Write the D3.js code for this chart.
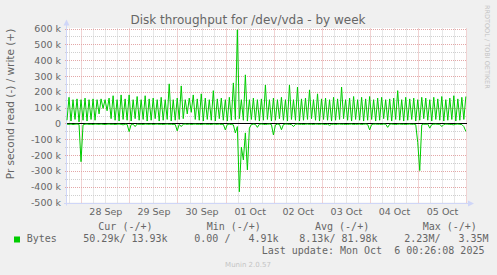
<!DOCTYPE html>
<html>
<head>
<meta charset="utf-8">
<script src="https://cdnjs.cloudflare.com/ajax/libs/d3/7.8.5/d3.min.js"></script>
<style>
  body { margin: 0; background: #f0f0f0; }
  svg { display: block; }
  text { font-family: "DejaVu Sans", sans-serif; fill: #666; }
  .mono { font-family: "DejaVu Sans Mono", monospace; font-size: 10px; white-space: pre; }
</style>
</head>
<body>
<script>

// time span of the week graph (one sample per hour)
var startTime = new Date(2025, 8, 27, 16, 52);
var endTime = new Date(2025, 9, 6, 0, 27);

// write (+) in k bytes/s: low point and peak of each 2 hour cycle
var writeTroughs = [20,15,25,10,20,15,25,20,60,95, 80,30,20,15,25,20,15,30,20,25,
                    15,20,30,15,20,25,15,20,25,30, 60,70,25,20,15,25,20,15,30,20,
                    15,20,25,30,20,15,25,20,15,20, 25,15,20,30,20,15,25,20,15,20,
                    25,30,20,15,25,20,15,20,25,30, 20,15,25,20,15,20,25,15,20,30,
                    20,15,25,20,15,20,25,15,20,30, 20,15,25,20,15,20,25,15,20,25];
var writePeaks = [165,150,155,150,160,150,155,150,155,150, 160,175,150,180,155,180,150,170,150,175,
                  155,160,150,165,150,250,150,160,237,150, 160,180,155,187,160,150,207,155,160,150,
                  165,256,592,150,307,150,160,150,155,243, 150,160,150,165,150,243,150,230,155,160,
                  212,150,187,155,160,150,165,155,230,150, 160,170,150,165,155,170,150,160,165,150,
                  155,160,207,150,165,155,160,150,165,160, 150,165,155,170,150,160,175,155,165,170];

// read (-) in k bytes/s, hourly
var readValues = [5,6,4,7,5,4,6,242,9,5, 4,6,5,7,4,5,6,4,6,7,
                  5,4,6,5,7,5,4,6,9,5, 6,52,7,5,20,4,6,5,7,4,
                  5,6,4,7,5,4,6,5,7,5, 4,6,5,7,6,47,6,20,5,4,
                  6,4,7,5,4,6,5,7,5,4, 6,5,7,4,5,6,4,7,5,41,
                  6,5,7,9,60,20,432,150,231,60, 294,30,7,5,6,25,5,4,6,7,
                  5,4,7,73,9,5,6,40,7,4, 5,6,7,20,5,4,6,5,7,5,
                  4,6,5,7,4,5,6,4,6,7, 5,12,6,5,7,5,4,6,5,7,
                  6,5,4,7,5,6,4,7,5,4, 6,41,7,5,4,6,5,7,4,5,
                  25,5,4,6,7,5,4,6,5,7, 5,4,6,5,7,120,298,9,5,6,
                  4,30,7,5,4,6,5,20,7,4, 5,6,7,9,5,4,6,7,20,50];

var yTicks = [-500000,-400000,-300000,-200000,-100000,0,100000,200000,300000,400000,500000,600000];
var yTickLabels = ["-500 k","-400 k","-300 k","-200 k","-100 k","0","100 k","200 k","300 k","400 k","500 k","600 k"];

var legendHeaders = ["Cur (-/+)", "Min (-/+)", "Avg (-/+)", "Max (-/+)"];
var legendValues = ["50.29k/ 13.93k", "0.00 /   4.91k", "8.13k/ 81.98k", "2.23M/   3.35M"];

window.onload = function() { drawChart(); };

function drawChart() {

  var W = 497, H = 275;
  var left = 67, right = 467, top = 28.5, bottom = 202.5;

  var svg = d3.select("body").append("svg")
    .attr("width", W)
    .attr("height", H);

  svg.append("rect").attr("width", W).attr("height", H).attr("fill", "#f0f0f0");

  // build hourly series
  var writeSeries = [], readSeries = [];
  for (var i = 0; i < writePeaks.length; i++) {
    writeSeries.push({t: d3.timeHour.offset(startTime, 2 * i), v: writeTroughs[i] * 1000});
    writeSeries.push({t: d3.timeHour.offset(startTime, 2 * i + 1), v: writePeaks[i] * 1000});
  }
  readValues.forEach(function(r, h) {
    readSeries.push({t: d3.timeHour.offset(startTime, h), v: -r * 1000});
  });

  var x = d3.scaleTime().domain([startTime, endTime]).range([left, right]);
  var y = d3.scaleLinear().domain([-500000, 600000]).range([bottom, top]);

  function px(v) { return Math.round(v) + 0.5; }

  // canvas
  svg.append("rect")
    .attr("x", left).attr("y", top - 0.5)
    .attr("width", right - left).attr("height", bottom - top + 0.5)
    .attr("fill", "#ffffff");

  // minor grid: every 50k and every 6 hours
  var minorY = d3.range(-450000, 600000, 100000);
  svg.append("g").selectAll("line").data(minorY).enter().append("line")
    .attr("x1", left - 2).attr("x2", right)
    .attr("y1", function(d) { return px(y(d)); })
    .attr("y2", function(d) { return px(y(d)); })
    .attr("stroke", "#cfcfcf").attr("stroke-dasharray", "1,1");

  var sixHours = d3.timeHour.every(6).range(startTime, endTime).filter(function(d) { return d.getHours() != 0; });
  svg.append("g").selectAll("line").data(sixHours).enter().append("line")
    .attr("x1", function(d) { return px(x(d)); })
    .attr("x2", function(d) { return px(x(d)); })
    .attr("y1", top).attr("y2", bottom + 2)
    .attr("stroke", "#cfcfcf").attr("stroke-dasharray", "1,1");

  // major grid: every 100k and every day
  svg.append("g").selectAll("line").data(yTicks).enter().append("line")
    .attr("x1", left - 2).attr("x2", right)
    .attr("y1", function(d) { return px(y(d)); })
    .attr("y2", function(d) { return px(y(d)); })
    .attr("stroke", "#e3a7a7").attr("stroke-dasharray", "1,1");

  var days = d3.timeDay.range(startTime, endTime);
  svg.append("g").selectAll("line").data(days).enter().append("line")
    .attr("x1", function(d) { return px(x(d)); })
    .attr("x2", function(d) { return px(x(d)); })
    .attr("y1", top).attr("y2", bottom + 2)
    .attr("stroke", "#e3a7a7").attr("stroke-dasharray", "1,1");

  // y axis labels
  var yAxis = d3.axisLeft(y)
    .tickValues(yTicks)
    .tickSize(0)
    .tickPadding(6)
    .tickFormat(function(d, i) { return yTickLabels[i]; });

  var gy = svg.append("g")
    .attr("transform", "translate(" + left + ",0)")
    .call(yAxis);
  gy.select(".domain").remove();
  gy.selectAll("text")
    .style("font-family", "DejaVu Sans, sans-serif")
    .style("font-size", "9.5px")
    .style("fill", "#666");

  // x axis labels at noon of each full day inside the graph
  var noons = days.map(function(d) { return d3.timeHour.offset(d, 12); })
    .filter(function(d) { return d < endTime; });
  var xAxis = d3.axisBottom(x)
    .tickValues(noons)
    .tickSize(0)
    .tickPadding(6)
    .tickFormat(d3.timeFormat("%d %b"));

  var gx = svg.append("g")
    .attr("transform", "translate(0," + bottom + ")")
    .call(xAxis);
  gx.select(".domain").remove();
  gx.selectAll("text")
    .style("font-family", "DejaVu Sans, sans-serif")
    .style("font-size", "9.5px")
    .style("fill", "#666");

  // axis lines and arrows
  svg.append("line")
    .attr("x1", left - 0.5).attr("x2", left - 0.5)
    .attr("y1", bottom + 3).attr("y2", top - 4)
    .attr("stroke", "#cfd6f8");
  svg.append("line")
    .attr("x1", left - 3).attr("x2", right + 2)
    .attr("y1", px(bottom)).attr("y2", px(bottom))
    .attr("stroke", "#cfd6f8");
  svg.append("path")
    .attr("d", "M" + (left - 3.5) + "," + (top - 3) + "L" + (left - 0.5) + "," + (top - 9) + "L" + (left + 2.5) + "," + (top - 3) + "Z")
    .attr("fill", "#cfd6f8");
  svg.append("path")
    .attr("d", "M" + (right + 1) + "," + (px(bottom) - 3) + "L" + (right + 7) + "," + px(bottom) + "L" + (right + 1) + "," + (px(bottom) + 3) + "Z")
    .attr("fill", "#cfd6f8");

  // zero line
  svg.append("line")
    .attr("x1", left).attr("x2", right)
    .attr("y1", px(y(0))).attr("y2", px(y(0)))
    .attr("stroke", "#000");

  // data lines
  var line = d3.line()
    .x(function(d) { return x(d.t); })
    .y(function(d) { return y(d.v); });

  svg.append("path")
    .datum(readSeries)
    .attr("d", line)
    .attr("fill", "none")
    .attr("stroke", "#00cc00")
    .attr("stroke-width", 1);

  svg.append("path")
    .datum(writeSeries)
    .attr("d", line)
    .attr("fill", "none")
    .attr("stroke", "#00cc00")
    .attr("stroke-width", 1);

  // title
  svg.append("text")
    .attr("x", 248)
    .attr("y", 23.5)
    .attr("text-anchor", "middle")
    .style("font-size", "12px")
    .text("Disk throughput for /dev/vda - by week");

  // vertical label
  svg.append("text")
    .attr("transform", "translate(14,104) rotate(-90)")
    .attr("text-anchor", "middle")
    .style("font-size", "10.5px")
    .text("Pr second read (-) / write (+)");

  // watermark
  svg.append("text")
    .attr("transform", "translate(485,5) rotate(90)")
    .style("font-size", "6.5px")
    .style("fill", "#c4c4c4")
    .text("RRDTOOL / TOBI OETIKER");

  // legend
  var headerX = [98.3, 206.7, 315, 422.7];
  var valueX = [83.3, 194.3, 299.3, 404.3];

  svg.append("g").selectAll("text").data(legendHeaders).enter().append("text")
    .attr("class", "mono")
    .attr("x", function(d, i) { return headerX[i]; })
    .attr("y", 230)
    .text(function(d) { return d; });

  svg.append("rect")
    .attr("x", 14).attr("y", 236.5)
    .attr("width", 6).attr("height", 6)
    .attr("fill", "#00cc00");

  svg.append("text")
    .attr("class", "mono")
    .attr("x", 26.7)
    .attr("y", 242.3)
    .text("Bytes");

  svg.append("g").selectAll("text").data(legendValues).enter().append("text")
    .attr("class", "mono")
    .attr("x", function(d, i) { return valueX[i]; })
    .attr("y", 242.3)
    .text(function(d) { return d; });

  svg.append("text")
    .attr("class", "mono")
    .attr("x", 261.7)
    .attr("y", 254)
    .text("Last update: Mon Oct  6 00:26:08 2025");

  svg.append("text")
    .attr("x", 248)
    .attr("y", 266.5)
    .attr("text-anchor", "middle")
    .style("font-size", "7px")
    .style("fill", "#c4c4c4")
    .text("Munin 2.0.57");
}
</script>
</body>
</html>
